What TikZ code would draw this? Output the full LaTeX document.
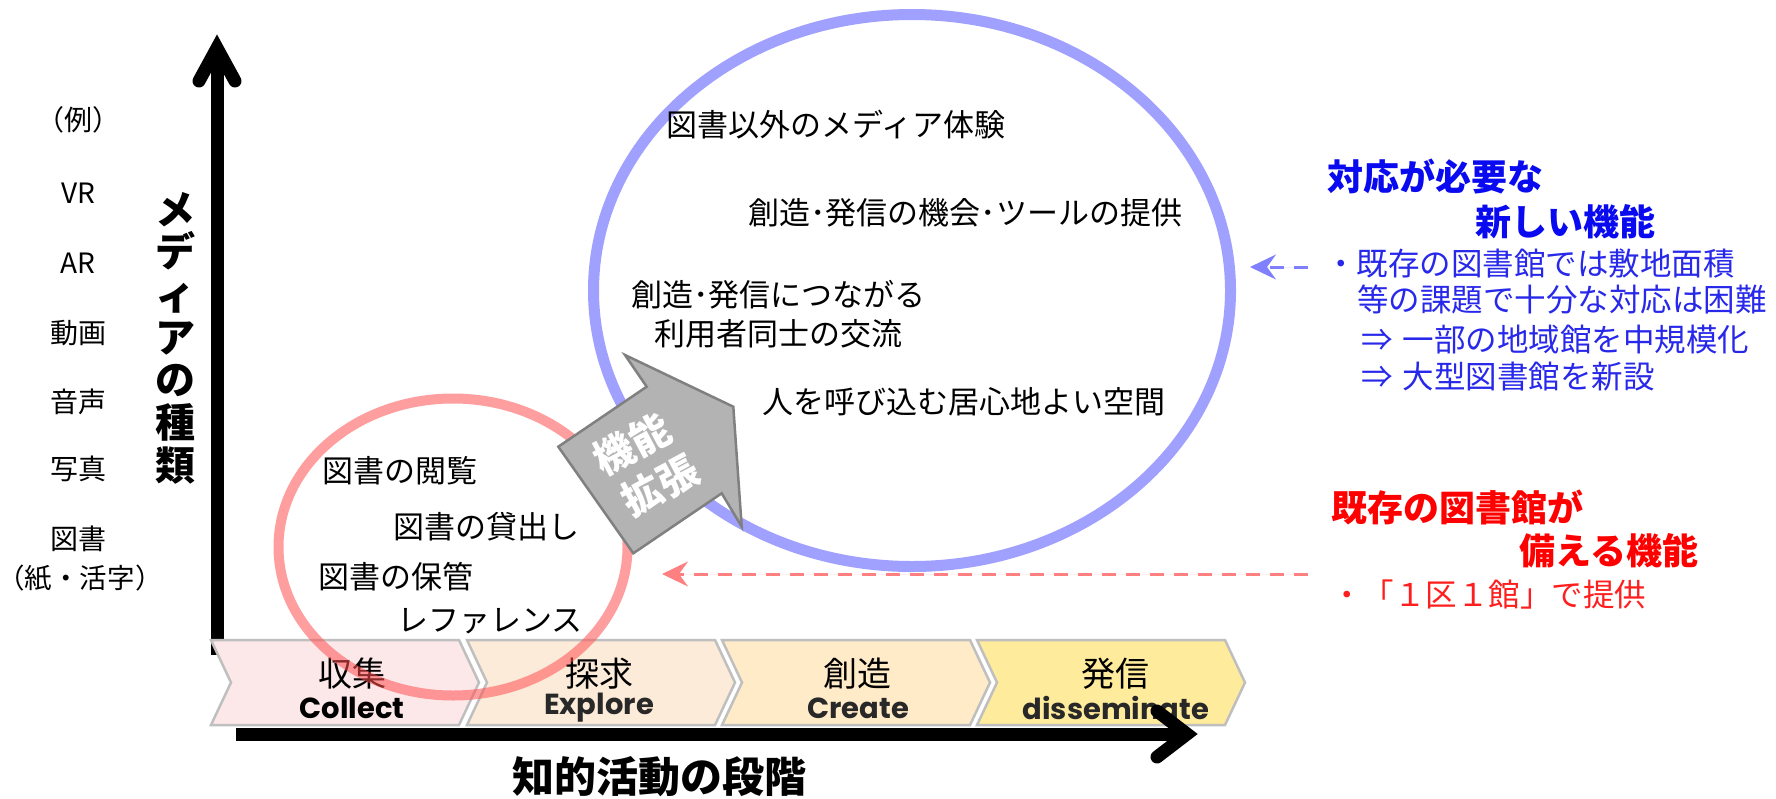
\documentclass[tikz,border=0pt]{standalone}
\usepackage{fontspec}
\setmainfont{Noto Sans CJK JP}
\newfontfamily\popfont{Poppins}
\usetikzlibrary{shapes.geometric,arrows.meta}

\definecolor{chevA}{RGB}{253,232,233}
\definecolor{chevB}{RGB}{253,235,218}
\definecolor{chevC}{RGB}{255,235,200}
\definecolor{chevD}{RGB}{255,235,156}
\definecolor{chevline}{RGB}{191,191,191}
\definecolor{ringblue}{RGB}{160,160,255}
\definecolor{ringred}{RGB}{255,80,80}
\definecolor{dashblue}{RGB}{128,128,255}
\definecolor{dashred}{RGB}{255,128,128}
\definecolor{tblue}{RGB}{10,10,240}
\definecolor{bblue}{RGB}{40,40,235}
\definecolor{tred}{RGB}{255,0,0}
\definecolor{bred}{RGB}{255,30,30}
\definecolor{arrowgray}{RGB}{179,179,179}
\definecolor{arrowline}{RGB}{128,128,128}
\definecolor{engray}{RGB}{40,40,40}

\newcommand\fsz[1]{\fontsize{#1}{#1}\selectfont}

\begin{document}
\begin{tikzpicture}[x=1pt,y=-1pt,
  chev/.style={draw=chevline, line width=2.5},
  jlab/.style={inner sep=0pt, font=\fsz{34}},
  elab/.style={inner sep=0pt, font=\popfont\bfseries\fsz{29}, text=engray},
  body/.style={inner sep=0pt, anchor=west, font=\fsz{31}},
  ex/.style={inner sep=0pt, font=\fsz{28}},
  axisline/.style={line width=13},
  axishead/.style={line width=13, line cap=round, line join=miter},
  ring/.style={ellipse, inner sep=0pt, line width=11},
  extlab/.style={inner sep=0pt, text=white, font=\bfseries\fsz{40}, rotate=28},
  dashconn/.style={line width=3, dash pattern=on 14pt off 10pt, -{Stealth[length=26pt, width=25pt, inset=9pt]}},
  rtitle/.style={inner sep=0pt, anchor=west, font=\bfseries\fsz{36}},
  rbody/.style={inner sep=0pt, anchor=west, font=\fsz{31.5}},
]
\fill[white] (0,0) rectangle (1776,798);
\useasboundingbox (0,0) rectangle (1776,798);

% vertical axis shaft (behind chevrons)
\draw[axisline] (217,655) -- (217,50);

% chevrons
\foreach \L/\c in {211/chevA,467/chevB,722/chevC,977/chevD}{
  \path[chev, fill=\c] (\L,640) -- (\L+248,640) -- (\L+268,682.5) -- (\L+248,725) -- (\L,725) -- (\L+20,682.5) -- cycle;
}
\node[jlab] (j1) at (352,674) {収集};
\node[jlab] (j2) at (599,674) {探求};
\node[jlab] (j3) at (857,674) {創造};
\node[jlab] (j4) at (1115,674) {発信};
\node[elab, text=black] (e1) at (352,708) {Collect};
\node[elab] (e2) at (599,708) {Explore};
\node[elab] (e3) at (858,708) {Create};
\node[elab] (e4) at (1116,708) {disseminate};

% ellipses
\node[ring, draw=ringblue, minimum width=637, minimum height=552] (blue) at (912,290.5) {};
\node[ring, draw=ringred, draw opacity=0.55, line width=10, minimum width=349, minimum height=297] (red) at (453,547) {};

% gray expansion arrow
\path[fill=arrowgray, draw=arrowline, line width=2.5, line join=miter]
  (558.3,446.7) -- (646.7,386.7) -- (625,355) -- (733.3,406.7) -- (741.7,526.7) -- (721.7,493.3) -- (633.3,553.3) -- cycle;
\node[extlab] (ext1) at (632,444) {機能};
\node[extlab] (ext2) at (660,485) {拡張};

% texts inside blue ellipse
\node[body] (b1) at (666,125) {図書以外のメディア体験};
\node[body] (b2) at (748,213) {創造･発信の機会･ツールの提供};
\node[body] (b3) at (631,295) {創造･発信につながる};
\node[body] (b4) at (654,334) {利用者同士の交流};
\node[body] (b5) at (762,402) {人を呼び込む居心地よい空間};

% texts inside red circle
\node[body] (r1) at (322,471) {図書の閲覧};
\node[body] (r2) at (393,527) {図書の貸出し};
\node[body] (r3) at (318,577) {図書の保管};
\node[body] (r4) at (397,621) {レファレンス};

% left examples
\node[ex] (x0) at (78,120) {（例）};
\node[ex] (x1) at (78,193) {VR};
\node[ex] (x2) at (78,263) {AR};
\node[ex] (x3) at (78,333) {動画};
\node[ex] (x4) at (78,402) {音声};
\node[ex] (x5) at (78,469) {写真};
\node[ex] (x6) at (78,539) {図書};
\node[ex, font=\fsz{27.5}] (x7) at (80,578) {（紙・活字）};

% vertical axis label
\node[inner sep=0pt, font=\bfseries\fontsize{40}{42.7}\selectfont, align=center] (vlab) at (175,338) {メ\\デ\\ィ\\ア\\の\\種\\類};

% horizontal axis label
\node[inner sep=0pt, font=\bfseries\fsz{42}] (hlab) at (659,777) {知的活動の段階};

% axes heads and horizontal axis
\draw[axishead] (199,81) -- (217,48) -- (235,81);
\draw[axisline] (236,734) -- (1185,734);
\draw[axishead] (1157,711) -- (1187,734) -- (1157,757);

% right side: blue
\node[rtitle, text=tblue] (bt1) at (1327,177) {対応が必要な};
\node[rtitle, text=tblue] (bt2) at (1475,222) {新しい機能};
\node[rbody, text=bblue] (bb1) at (1325,264) {・既存の図書館では敷地面積};
\node[rbody, text=bblue] (bb2) at (1357,300) {等の課題で十分な対応は困難};
\node[rbody, text=bblue] (bb3) at (1361,340) {⇒\hspace{10pt}一部の地域館を中規模化};
\node[rbody, text=bblue] (bb4) at (1361,377) {⇒\hspace{10pt}大型図書館を新設};

% right side: red
\node[rtitle, text=tred] (rt1) at (1331,507) {既存の図書館が};
\node[rtitle, text=tred] (rt2) at (1519,551) {備える機能};
\node[rbody, text=bred] (rb1) at (1331,595) {・「１区１館」で提供};

% dashed pointers
\coordinate (bs) at (1308,267);
\coordinate (be) at (1250,267);
\draw[dashconn, draw=dashblue, fill=dashblue] (bs) -- (be);
\coordinate (rs) at (1308,574);
\coordinate (re) at (662,574);
\draw[dashconn, draw=dashred, fill=dashred] (rs) -- (re);
\end{tikzpicture}
\end{document}
